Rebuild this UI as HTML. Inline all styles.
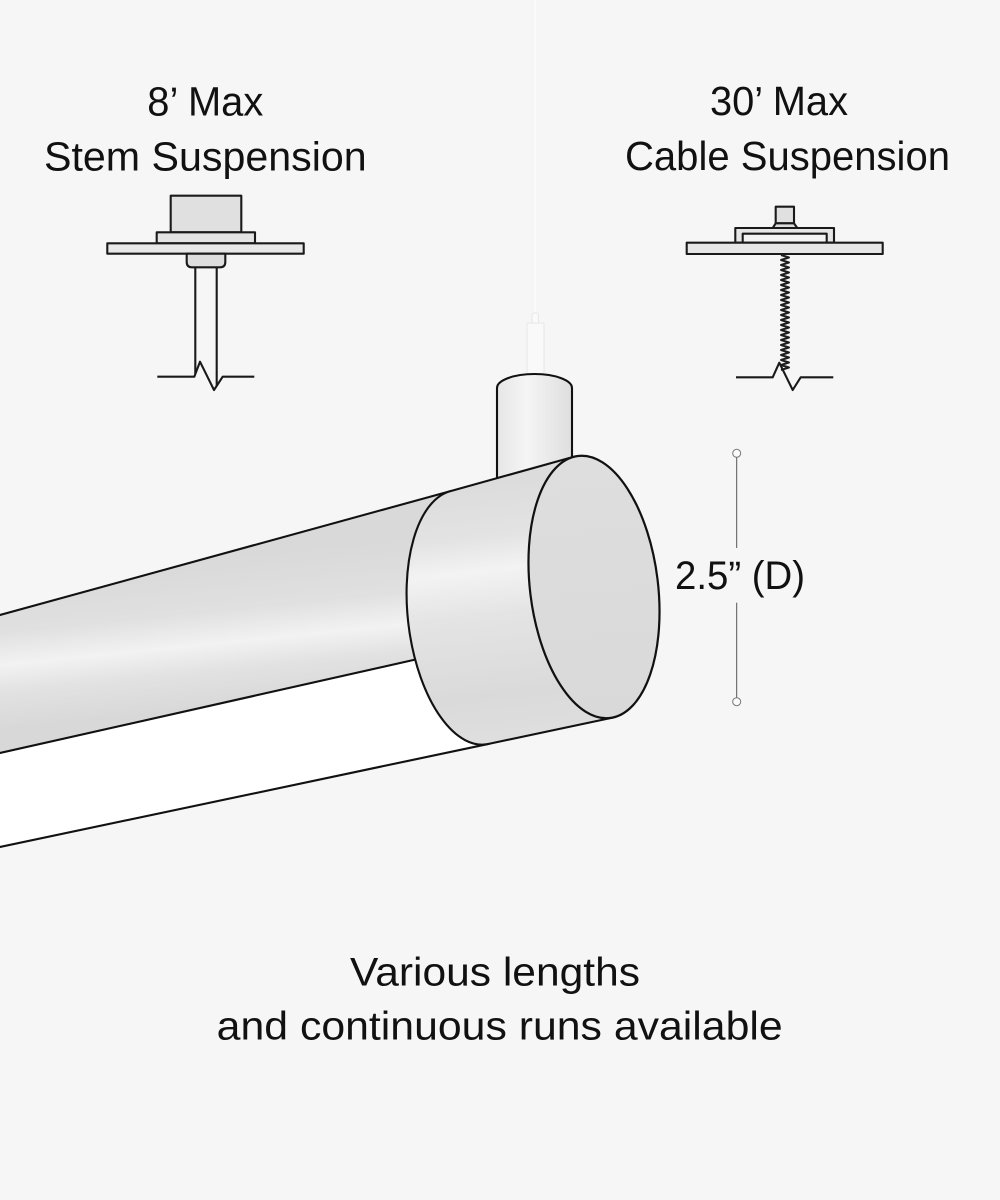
<!DOCTYPE html>
<html>
<head>
<meta charset="utf-8">
<style>
  html, body { margin:0; padding:0; background:#f6f6f6; }
  svg { display:block; }
  text { font-family: "Liberation Sans", "DejaVu Sans", sans-serif; fill:#111; }
</style>
</head>
<body>
<svg width="1000" height="1200" viewBox="0 0 1000 1200" xmlns="http://www.w3.org/2000/svg">
  <defs>
    <linearGradient id="tubeGrad" gradientUnits="userSpaceOnUse" x1="200" y1="560" x2="215" y2="708">
      <stop offset="0" stop-color="#d9d9d9"/>
      <stop offset="0.35" stop-color="#e0e0e0"/>
      <stop offset="0.57" stop-color="#f2f2f2"/>
      <stop offset="0.75" stop-color="#e2e2e2"/>
      <stop offset="1" stop-color="#d8d8d8"/>
    </linearGradient>
    <linearGradient id="capGrad" gradientUnits="userSpaceOnUse" x1="470" y1="485" x2="500" y2="747">
      <stop offset="0" stop-color="#dcdcdc"/>
      <stop offset="0.2" stop-color="#e3e3e3"/>
      <stop offset="0.33" stop-color="#f3f3f3"/>
      <stop offset="0.5" stop-color="#e4e4e4"/>
      <stop offset="0.8" stop-color="#dadada"/>
      <stop offset="1" stop-color="#dfdfdf"/>
    </linearGradient>
    <linearGradient id="faceGrad" x1="0" y1="0" x2="0" y2="1">
      <stop offset="0" stop-color="#dedede"/>
      <stop offset="1" stop-color="#d9d9d9"/>
    </linearGradient>
    <linearGradient id="stemGrad" x1="0" y1="0" x2="1" y2="0">
      <stop offset="0" stop-color="#e6e6e6"/>
      <stop offset="0.4" stop-color="#f5f5f5"/>
      <stop offset="1" stop-color="#dedede"/>
    </linearGradient>
  </defs>

  <rect x="0" y="0" width="1000" height="1200" fill="#f6f6f6"/>

  <!-- Headings -->
  <text x="147.3" y="115.7" font-size="41" textLength="116" lengthAdjust="spacingAndGlyphs">8’ Max</text>
  <text x="44" y="170.7" font-size="41" textLength="322.7" lengthAdjust="spacingAndGlyphs">Stem Suspension</text>
  <text x="710" y="115" font-size="41" textLength="138" lengthAdjust="spacingAndGlyphs">30’ Max</text>
  <text x="625" y="170" font-size="41" textLength="325" lengthAdjust="spacingAndGlyphs">Cable Suspension</text>

  <!-- Stem suspension -->
  <g stroke="#1a1a1a" stroke-width="2.1" stroke-linejoin="round">
    <rect x="170.7" y="195.7" width="70.6" height="36.6" fill="#e0e0e0"/>
    <rect x="156.7" y="232.3" width="98.3" height="11" fill="#e4e4e4"/>
    <rect x="107.3" y="243.3" width="196.4" height="10.4" fill="#e8e8e8"/>
    <path d="M186.7 253.7 V262 Q186.7 267.3 192 267.3 H220 Q225.3 267.3 225.3 262 V253.7 Z" fill="#dedede"/>
    <line x1="195.3" y1="267.3" x2="195.3" y2="374" fill="none"/>
    <line x1="216.7" y1="267.3" x2="216.7" y2="386" fill="none"/>
    <polyline points="157.3,376.7 194.3,376.7 200,361.7 214,390 222.7,376.7 254.3,376.7" fill="none"/>
  </g>

  <!-- Cable suspension -->
  <g stroke="#1a1a1a" stroke-width="2.1" stroke-linejoin="round">
    <rect x="775.7" y="206.7" width="18.3" height="16.6" fill="#e0e0e0"/>
    <polygon points="775.7,223.3 794,223.3 797.3,228 772.7,228" fill="#dcdcdc"/>
    <rect x="735.3" y="228" width="98.7" height="14.7" fill="#e6e6e6"/>
    <rect x="742.7" y="233.7" width="84" height="9" fill="#f4f4f4"/>
    <rect x="686.7" y="242.7" width="196" height="11.3" fill="#e6e6e6"/>
    <path d="M781 255 l8 2.5 l-8 2.5 l8 2.5 l-8 2.5 l8 2.5 l-8 2.5 l8 2.5 l-8 2.5 l8 2.5 l-8 2.5 l8 2.5 l-8 2.5 l8 2.5 l-8 2.5 l8 2.5 l-8 2.5 l8 2.5 l-8 2.5 l8 2.5 l-8 2.5 l8 2.5 l-8 2.5 l8 2.5 l-8 2.5 l8 2.5 l-8 2.5 l8 2.5 l-8 2.5 l8 2.5 l-8 2.5 l8 2.5 l-8 2.5 l8 2.5 l-8 2.5 l8 2.5 l-8 2.5 l8 2.5 l-8 2.5 l8 2.5 l-8 2.5 l8 2.5 l-8 2.5 l8 2.5 l-8 2.5 l8 2.5 l-8 2.5" fill="none" stroke="#1e1e1e" stroke-width="2"/>
    <polyline points="736,377.3 772.7,377.3 779.3,362.7 792.7,390 800.7,377.3 833.3,377.3" fill="none"/>
  </g>

  <!-- Cable / rod above stem -->
  <line x1="535" y1="0" x2="535" y2="313" stroke="#fdfdfd" stroke-width="1.2"/>
  <rect x="532" y="313" width="6.3" height="11" rx="2" fill="#fafafa" stroke="#e2e2e2" stroke-width="0.8"/>
  <rect x="527" y="323" width="17" height="54" fill="#f9f9f9" stroke="#e4e4e4" stroke-width="0.8"/>

  <!-- Stem cylinder -->
  <path d="M497 388 A37.5 14 0 0 1 572 388 L572 457.7 L497 478.3 Z" fill="url(#stemGrad)" stroke="#111" stroke-width="2.1" stroke-linejoin="round"/>

  <!-- Tube: gray upper and white lower -->
  <polygon points="0,615 480,483 480,645 0,753" fill="url(#tubeGrad)"/>
  <polygon points="0,753 480,645 480,745.7 0,847" fill="#ffffff"/>
  <g stroke="#111" stroke-width="2.1" fill="none" stroke-linecap="round">
    <line x1="0" y1="615" x2="451" y2="491"/>
    <line x1="0" y1="753" x2="420" y2="658.5"/>
    <line x1="0" y1="847" x2="489" y2="743.8"/>
  </g>

  <!-- End cap body -->
  <path d="M450.5 491.1 L573.4 456.9 L612.7 717.6 L488.7 743.9 A62.06 128 -7 0 1 450.5 491.1 Z"
        fill="url(#capGrad)" stroke="#111" stroke-width="2.1" stroke-linejoin="round"/>
  <ellipse cx="594" cy="587" rx="64" ry="132" transform="rotate(-7 594 587)"
           fill="url(#faceGrad)" stroke="#111" stroke-width="2.2"/>

  <!-- Dimension -->
  <g stroke="#555" stroke-width="1" fill="none">
    <line x1="736.7" y1="457.3" x2="736.7" y2="548"/>
    <line x1="736.7" y1="602.7" x2="736.7" y2="697.7"/>
    <circle cx="736.7" cy="453.3" r="4" fill="#fbfbfb" stroke="#777"/>
    <circle cx="736.7" cy="701.7" r="4" fill="#fbfbfb" stroke="#777"/>
  </g>
  <text x="675" y="589" font-size="40" textLength="130" lengthAdjust="spacingAndGlyphs">2.5” (D)</text>

  <!-- Bottom text -->
  <text x="350" y="985.7" font-size="40" textLength="290" lengthAdjust="spacingAndGlyphs">Various lengths</text>
  <text x="216.7" y="1039.3" font-size="40" textLength="566" lengthAdjust="spacingAndGlyphs">and continuous runs available</text>
</svg>
</body>
</html>
